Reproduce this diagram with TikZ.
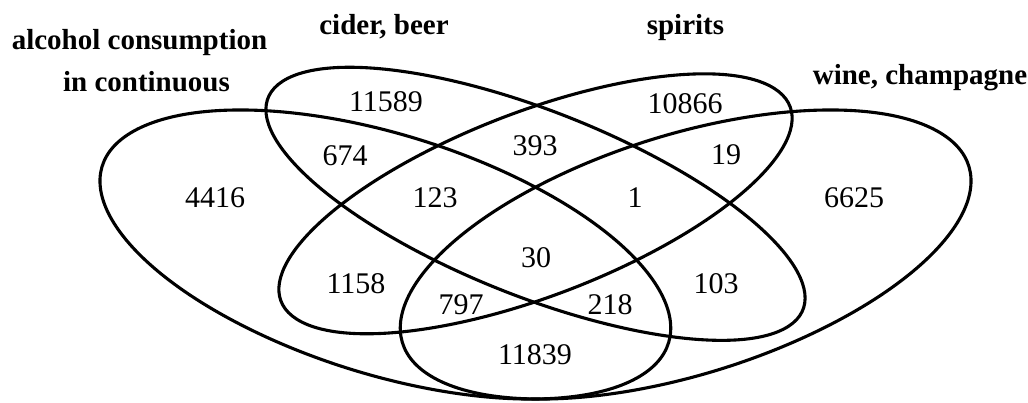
\documentclass[tikz,border=0pt]{standalone}
\usepackage{fontspec}
\setmainfont{Liberation Serif}
\begin{document}
\begin{tikzpicture}[x=1pt,y=1pt,
  venn/.style={line width=3.1pt, black},
  count/.style={inner sep=0pt, font=\fontsize{30}{35}\selectfont},
  setname/.style={inner sep=0pt, anchor=base, font=\fontsize{29}{34}\selectfont\bfseries}]
\useasboundingbox (0,0) rectangle (1028,402);

% four rotated ellipses, laid out in a unit square and stretched to the page
\begin{scope}[shift={(35,-90.8)}, xscale=1001, yscale=507]
  \draw[venn, shift={(0.35,0.47)}, rotate=135] (0,0) ellipse [x radius=0.35, y radius=0.20];
  \draw[venn, shift={(0.50,0.57)}, rotate=135] (0,0) ellipse [x radius=0.35, y radius=0.15];
  \draw[venn, shift={(0.50,0.57)}, rotate=45]  (0,0) ellipse [x radius=0.33, y radius=0.15];
  \draw[venn, shift={(0.65,0.47)}, rotate=45]  (0,0) ellipse [x radius=0.35, y radius=0.20];
\end{scope}

% set names
\node[setname] (nameA1) at (139.5,352) {alcohol consumption};
\node[setname] (nameA2) at (146.5,310) {in continuous};
\node[setname] (nameB)  at (384,367) {cider, beer};
\node[setname] (nameC)  at (685.5,367) {spirits};
\node[setname] (nameD)  at (920,317) {wine, champagne};

% region counts
\node[count] (nA)    at (215,204)   {4416};
\node[count] (nB)    at (386,300)   {11589};
\node[count] (nC)    at (685,298)   {10866};
\node[count] (nD)    at (854,204)   {6625};
\node[count] (nAB)   at (345,246)   {674};
\node[count] (nBC)   at (535,256)   {393};
\node[count] (nCD)   at (726,247)   {19};
\node[count] (nABC)  at (435,204)   {123};
\node[count] (nBCD)  at (635,204)   {1};
\node[count] (nABCD) at (536,144)   {30};
\node[count] (nAC)   at (356,118)   {1158};
\node[count] (nBD)   at (716,118)   {103};
\node[count] (nACD)  at (461,97)    {797};
\node[count] (nABD)  at (610,97)    {218};
\node[count] (nAD)   at (535,47)    {11839};
\end{tikzpicture}
\end{document}
